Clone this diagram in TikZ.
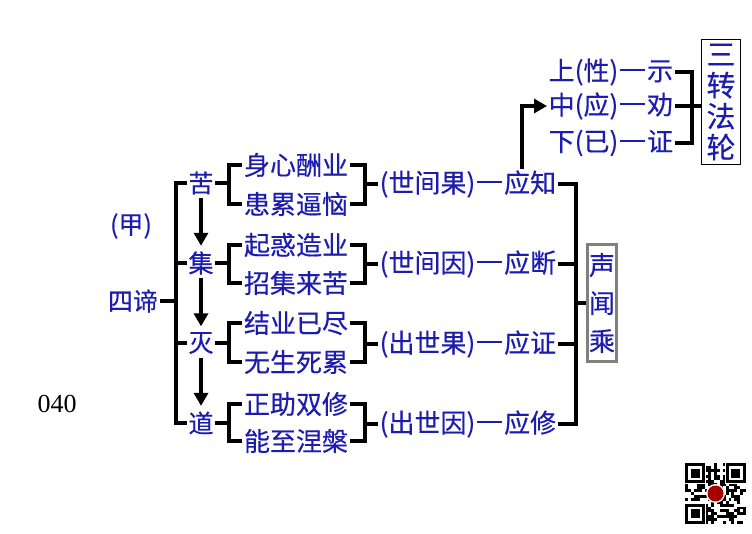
\documentclass[tikz,border=0pt]{standalone}
\usepackage{fontspec}
\newfontfamily\cjk{Noto Sans CJK SC}[FakeBold=0.4]
\newfontfamily\numfont{Liberation Serif}
\usetikzlibrary{arrows.meta, positioning, calc}
\definecolor{inkblue}{RGB}{28,28,175}
\newcommand{\yingdash}{\kern0.08em\rule[0.36em]{0.95em}{0.065em}\kern0.08em}
\tikzset{
    item/.style={
        font=\fontsize{26}{28}\selectfont\cjk,
        text=inkblue, inner sep=1.5pt
    },
    truth/.style={
        font=\fontsize{25}{27}\selectfont\cjk,
        text=inkblue, inner sep=1.5pt
    },
    vbox/.style={
        rectangle, align=center, text=inkblue,
        inner sep=1pt
    },
    bar/.style={line width=3.8pt, draw=black},
    flow/.style={-{Triangle[width=14pt,length=13pt]}, line width=3.4pt, draw=black}
}

\begin{document}
\begin{tikzpicture}[x=1pt, y=-1pt]
    \useasboundingbox (0,0) rectangle (752,534);

    % the four truths
    \node[truth] (jia) at (131,226) {(甲)};
    \node[truth] (sidi) at (133,301) {四谛};
    \node[truth] (ku) at (201,183) {苦};
    \node[truth] (ji) at (201,263) {集};
    \node[truth] (mie) at (201,343) {灭};
    \node[truth] (dao) at (201,423) {道};
    \node[font=\fontsize{26}{28}\selectfont\numfont] (num) at (57,404) {040};

    \coordinate (v1) at (176,0);
    \draw[bar] (sidi.east) -- (sidi.east -| v1);
    \draw[bar] (ku.west) -- (ku.west -| v1) -- (dao.west -| v1) -- (dao.west);
    \draw[bar] (ji.west) -- (ji.west -| v1);
    \draw[bar] (mie.west) -- (mie.west -| v1);

    \draw[flow, shorten <=2pt, shorten >=4pt] (ku.south) -- (ji.north);
    \draw[flow, shorten <=2pt, shorten >=4pt] (ji.south) -- (mie.north);
    \draw[flow, shorten <=2pt, shorten >=4pt] (mie.south) -- (dao.north);

    % explanations
    \node[item] (ku1) at (296,165) {身心酬业};
    \node[item] (ku2) at (296,204) {患累逼恼};
    \node[item] (ji1) at (296,245) {起惑造业};
    \node[item] (ji2) at (296,283) {招集来苦};
    \node[item] (mie1) at (296,323) {结业已尽};
    \node[item] (mie2) at (296,362) {无生死累};
    \node[item] (dao1) at (296,404) {正助双修};
    \node[item] (dao2) at (296,441) {能至涅槃};

    \coordinate (v2) at (229,0);
    \draw[bar] (ku1.west) -- (ku1.west -| v2) -- (ku2.west -| v2) -- (ku2.west);
    \draw[bar] (ji1.west) -- (ji1.west -| v2) -- (ji2.west -| v2) -- (ji2.west);
    \draw[bar] (mie1.west) -- (mie1.west -| v2) -- (mie2.west -| v2) -- (mie2.west);
    \draw[bar] (dao1.west) -- (dao1.west -| v2) -- (dao2.west -| v2) -- (dao2.west);
    \draw[bar] (ku.east) -- (ku.east -| v2);
    \draw[bar] (ji.east) -- (ji.east -| v2);
    \draw[bar] (mie.east) -- (mie.east -| v2);
    \draw[bar] (dao.east) -- (dao.east -| v2);

    % what each truth asks for
    \node[item, anchor=west] (zhi) at (378,184) {(世间果)\yingdash 应知};
    \node[item, anchor=west] (duan) at (378,264) {(世间因)\yingdash 应断};
    \node[item, anchor=west] (zheng) at (378,344) {(出世果)\yingdash 应证};
    \node[item, anchor=west] (xiu) at (378,424) {(出世因)\yingdash 应修};

    \coordinate (v3) at (365,0);
    \draw[bar] (ku1.east) -- (ku1.east -| v3) -- (ku2.east -| v3) -- (ku2.east);
    \draw[bar] (ji1.east) -- (ji1.east -| v3) -- (ji2.east -| v3) -- (ji2.east);
    \draw[bar] (mie1.east) -- (mie1.east -| v3) -- (mie2.east -| v3) -- (mie2.east);
    \draw[bar] (dao1.east) -- (dao1.east -| v3) -- (dao2.east -| v3) -- (dao2.east);
    \draw[bar] (zhi.west) -- (zhi.west -| v3);
    \draw[bar] (duan.west) -- (duan.west -| v3);
    \draw[bar] (zheng.west) -- (zheng.west -| v3);
    \draw[bar] (xiu.west) -- (xiu.west -| v3);

    % sravaka vehicle
    \node[vbox, draw=gray, line width=2.2pt, font=\fontsize{26}{38}\selectfont\cjk,
          minimum width=29pt, minimum height=117pt] (shengwen) at (602,303) {声\\闻\\乘};
    \coordinate (v4) at (576,0);
    \draw[bar] (zhi.east) -- (zhi.east -| v4) -- (xiu.east -| v4) -- (xiu.east);
    \draw[bar] (duan.east) -- (duan.east -| v4);
    \draw[bar] (zheng.east) -- (zheng.east -| v4);
    \draw[bar] (shengwen.west -| v4) -- (shengwen.west);

    % three turnings
    \node[item, anchor=west] (shang) at (547,72) {上(性)\yingdash 示};
    \node[item, anchor=west] (zhong) at (547,106) {中(应)\yingdash 劝};
    \node[item, anchor=west] (xia) at (547,143) {下(已)\yingdash 证};
    \node[vbox, draw=black, line width=1.4pt, font=\fontsize{29}{31}\selectfont\cjk,
          minimum width=39pt, minimum height=125pt] (falun) at (721,102) {三\\转\\法\\轮};

    \coordinate (v5) at (692,0);
    \draw[bar] (shang.east) -- (shang.east -| v5) -- (xia.east -| v5) -- (xia.east);
    \draw[bar] (zhong.east) -- (zhong.east -| falun.west);

    \coordinate (up) at (522,0);
    \draw[flow] (zhi.north -| up) |- (zhong.west);

    % qr code
    \begin{scope}[shift={(685,463)}]
        \pgfmathsetseed{17}
        \foreach \i in {0,...,20} {
            \foreach \j in {0,...,20} {
                \pgfmathrandominteger{\q}{0}{1}
                \ifnum\q=1 \fill (2.9*\i,2.9*\j) rectangle ++(2.9,2.9); \fi
            }
        }
        \foreach \p/\r in {0/0, 14/0, 0/14} {
            \fill[white] (2.9*\p-1,2.9*\r-1) rectangle ++(22.3,22.3);
            \fill (2.9*\p,2.9*\r) rectangle ++(20.3,20.3);
            \fill[white] (2.9*\p+2.9,2.9*\r+2.9) rectangle ++(14.5,14.5);
            \fill (2.9*\p+5.8,2.9*\r+5.8) rectangle ++(8.7,8.7);
        }
        \fill[white] (30.5,30.5) circle (9.5);
        \fill[red!65!black] (30.5,30.5) circle (8);
    \end{scope}
\end{tikzpicture}
\end{document}
